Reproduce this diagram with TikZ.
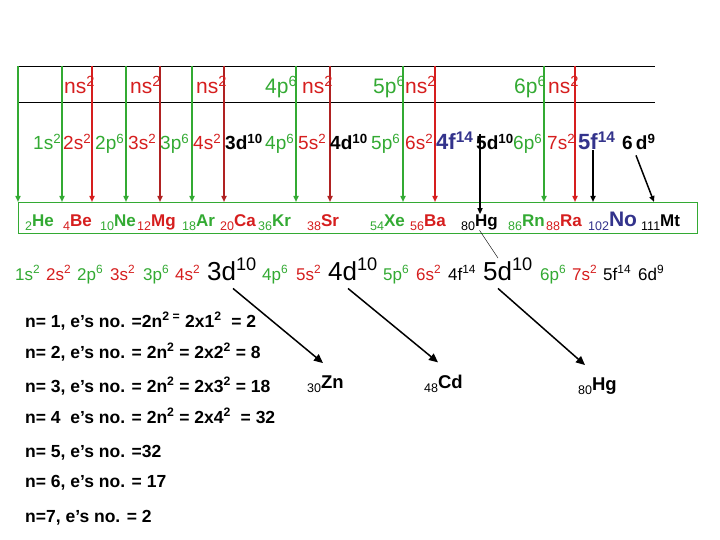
\documentclass[tikz,border=0pt]{standalone}
\usepackage{fontspec}
\setmainfont{Liberation Sans}
\usetikzlibrary{arrows.meta}
\definecolor{grn}{RGB}{51,170,51}
\definecolor{rd}{RGB}{214,30,30}
\definecolor{dkrd}{RGB}{176,34,34}
\definecolor{nvy}{RGB}{51,51,140}
\newcommand{\up}[1]{\textsuperscript{#1}}
\newcommand{\el}[2]{{\fontsize{12.5}{12.5}\selectfont\raisebox{-4pt}{\mdseries #1}}#2}
\tikzset{
  shell/.style={anchor=base west,inner sep=0pt,font=\fontsize{21}{21}\selectfont},
  orb/.style={anchor=base west,inner sep=0pt,font=\fontsize{19}{19}\selectfont},
  orbbold/.style={orb,font=\fontsize{19}{19}\selectfont\bfseries},
  orbbig/.style={orb,nvy,font=\fontsize{22}{22}\selectfont\bfseries},
  atom/.style={anchor=base west,inner sep=0pt,font=\fontsize{17}{17}\selectfont\bfseries},
  conf/.style={anchor=base west,inner sep=0pt,font=\fontsize{17}{17}\selectfont},
  confbig/.style={conf,font=\fontsize{26}{26}\selectfont},
  rule/.style={anchor=base west,inner sep=0pt,font=\fontsize{17.5}{17.5}\selectfont\bfseries},
  drop/.style={line width=1.5pt,-{Triangle[length=6pt,width=5pt]}},
  pick/.style={line width=1.5pt,-{Triangle[length=9pt,width=8pt]}}
}
\begin{document}
\begin{tikzpicture}[x=1pt,y=-1pt]
\useasboundingbox (0,0) rectangle (720,540);
\fill[white] (0,0) rectangle (720,540);
\draw (18,66) -- (655,66);
\draw (18,102) -- (655,102);
\node[draw=grn,line width=1pt,minimum width=679pt,minimum height=31pt,inner sep=0pt,anchor=north west] (box) at (18,202) {};
\foreach \x/\c in {18/grn,62/grn,92/rd,126/grn,160/dkrd,192/grn,224/dkrd,296/grn,330/dkrd,403/grn,435/rd,544/grn,575/rd}
  \draw[drop,\c] (\x,66) -- (box.north -| \x,0);
\foreach \x in {64,130,196,302,405,548}
  \node[shell,rd] (ns\x) at (\x,94) {ns\up{2}};
\node[shell,grn] (p4) at (265,94) {4p\up{6}};
\node[shell,grn] (p5) at (373,94) {5p\up{6}};
\node[shell,grn] (p6) at (514,94) {6p\up{6}};
\node[orb,grn] (o1s) at (33,150) {1s\up{2}};
\node[orb,rd] (o2s) at (63,150) {2s\up{2}};
\node[orb,grn] (o2p) at (95,150) {2p\up{6}};
\node[orb,rd] (o3s) at (128,150) {3s\up{2}};
\node[orb,grn] (o3p) at (160,150) {3p\up{6}};
\node[orb,rd] (o4s) at (193,150) {4s\up{2}};
\node[orbbold] (o3d) at (225,150) {3d\up{10}};
\node[orb,grn] (o4p) at (265,150) {4p\up{6}};
\node[orb,rd] (o5s) at (298,150) {5s\up{2}};
\node[orbbold] (o4d) at (330,150) {4d\up{10}};
\node[orb,grn] (o5p) at (371,150) {5p\up{6}};
\node[orb,rd] (o6s) at (405,150) {6s\up{2}};
\node[orbbig] (o4f) at (436,150) {4f\up{14}};
\node[orbbold] (o5d) at (476,150) {5d\up{10}};
\node[orb,grn] (o6p) at (513,150) {6p\up{6}};
\node[orb,rd] (o7s) at (547,150) {7s\up{2}};
\node[orbbig] (o5f) at (578,150) {5f\up{14}};
\node[orbbold] (o6d) at (622,150) {6\,d\up{9}};
\node[atom,grn] (he) at (25,226) {\el{2}{He}};
\node[atom,rd] (be) at (63,226) {\el{4}{Be}};
\node[atom,grn] (ne) at (100,226) {\el{10}{Ne}};
\node[atom,rd] (mg) at (137,226) {\el{12}{Mg}};
\node[atom,grn] (ar) at (182,226) {\el{18}{Ar}};
\node[atom,rd] (ca) at (220,226) {\el{20}{Ca}};
\node[atom,grn] (kr) at (258,226) {\el{36}{Kr}};
\node[atom,rd] (sr) at (307,226) {\el{38}{Sr}};
\node[atom,grn] (xe) at (370,226) {\el{54}{Xe}};
\node[atom,rd] (ba) at (410,226) {\el{56}{Ba}};
\node[atom] (hg) at (461,226) {\el{80}{Hg}};
\node[atom,grn] (rn) at (508,226) {\el{86}{Rn}};
\node[atom,rd] (ra) at (546,226) {\el{88}{Ra}};
\node[atom,nvy,font=\fontsize{21}{21}\selectfont\bfseries] (no) at (588,226) {\el{102}{No}};
\node[atom] (mt) at (641,226) {\el{111}{Mt}};
\draw[drop] ([xshift=4pt]o5d.north west) -- ([xshift=4pt]o5d.north west |- hg.north);
\draw[drop] ([xshift=15pt]o5f.south west) -- (box.north -| 593,0);
\draw[drop] ([xshift=14pt,yshift=-5pt]o6d.south west) -- (box.north -| 654,0);
\node[conf,grn] (c1s) at (15,280) {1s\up{2}};
\node[conf,rd] (c2s) at (46,280) {2s\up{2}};
\node[conf,grn] (c2p) at (77,280) {2p\up{6}};
\node[conf,rd] (c3s) at (110,280) {3s\up{2}};
\node[conf,grn] (c3p) at (143,280) {3p\up{6}};
\node[conf,rd] (c4s) at (175,280) {4s\up{2}};
\node[confbig] (c3d) at (207,280) {3d\up{10}};
\node[conf,grn] (c4p) at (262,280) {4p\up{6}};
\node[conf,rd] (c5s) at (296,280) {5s\up{2}};
\node[confbig] (c4d) at (328,280) {4d\up{10}};
\node[conf,grn] (c5p) at (383,280) {5p\up{6}};
\node[conf,rd] (c6s) at (416,280) {6s\up{2}};
\node[conf] (c4f) at (448,280) {4f\up{14}};
\node[confbig] (c5d) at (483,280) {5d\up{10}};
\node[conf,grn] (c6p) at (540,280) {6p\up{6}};
\node[conf,rd] (c7s) at (572,280) {7s\up{2}};
\node[conf] (c5f) at (603,280) {5f\up{14}};
\node[conf] (c6d) at (638,280) {6d\up{9}};
\draw[thin] (hg.south) -- ([xshift=15pt]c5d.north west);
\node[rule] (n1) at (25,327) {n= 1, e’s no. =2n\up{2 =} 2x1\up{2}\ \ = 2};
\node[rule] (n2) at (25,358) {n= 2, e’s no. = 2n\up{2} = 2x2\up{2} = 8};
\node[rule] (n3) at (25,392) {n= 3, e’s no. = 2n\up{2} = 2x3\up{2} = 18};
\node[rule] (n4) at (25,423) {n= 4\ \ e’s no. = 2n\up{2} = 2x4\up{2}\ \ = 32};
\node[rule] (n5) at (25,457) {n= 5, e’s no. =32};
\node[rule] (n6) at (25,487) {n= 6, e’s no. = 17};
\node[rule] (n7) at (25,522) {n=7, e’s no. = 2};
\node[atom,font=\fontsize{18.5}{18.5}\selectfont\bfseries] (zn) at (307,388) {\el{30}{Zn}};
\node[atom,font=\fontsize{18.5}{18.5}\selectfont\bfseries] (cd) at (424,388) {\el{48}{Cd}};
\node[atom,font=\fontsize{18.5}{18.5}\selectfont\bfseries] (hgb) at (578,390) {\el{80}{Hg}};
\draw[pick] ([xshift=26pt,yshift=-8pt]c3d.south west) -- ([xshift=16pt,yshift=12pt]zn.north west);
\draw[pick] ([xshift=20pt,yshift=-8pt]c4d.south west) -- ([xshift=14pt,yshift=12pt]cd.north west);
\draw[pick] ([xshift=15pt,yshift=-8pt]c5d.south west) -- ([xshift=7pt,yshift=12pt]hgb.north west);
\end{tikzpicture}
\end{document}
